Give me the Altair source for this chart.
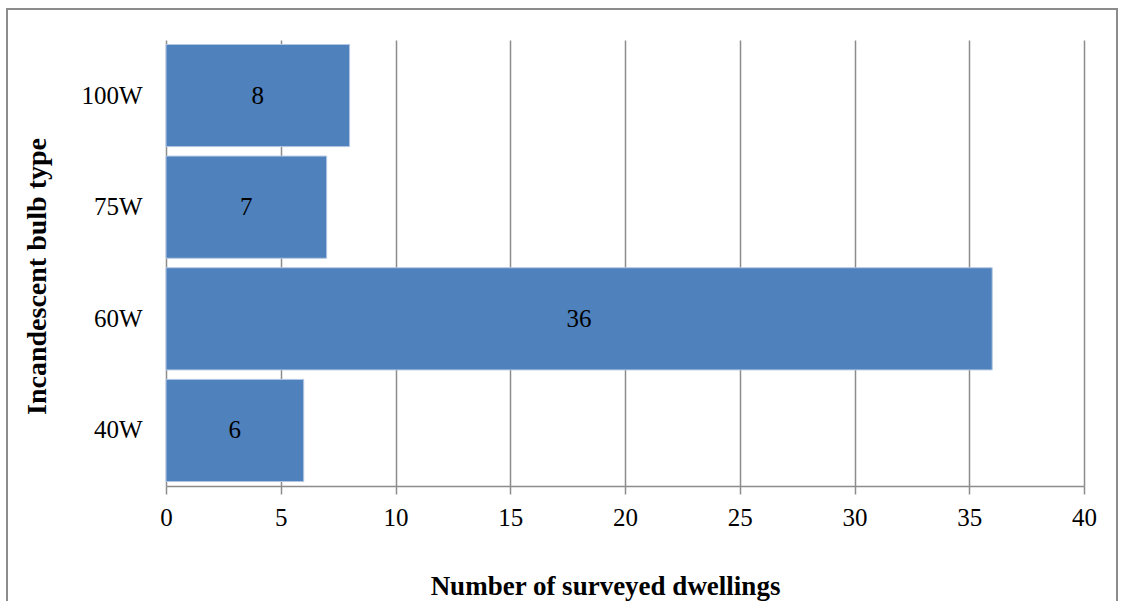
import altair as alt
import pandas as pd

# Bulb types and how many surveyed dwellings use each
bulb_types = ["100W", "75W", "60W", "40W"]
dwellings = [8, 7, 36, 6]
x_ticks = [0, 5, 10, 15, 20, 25, 30, 35, 40]

df = pd.DataFrame({"bulb": bulb_types, "count": dwellings})

FONT = "Liberation Serif"
GRID = "#8c8c8c"

y_enc = alt.Y(
    "bulb:N",
    sort=bulb_types,
    scale=alt.Scale(paddingInner=0.085, paddingOuter=0.04),
    axis=alt.Axis(
        title="Incandescent bulb type",
        ticks=False,
        domain=False,
        labelPadding=24,
        titlePadding=29,
        titleFontSize=28,
        titleY=236,
    ),
)

x_enc = alt.X(
    "count:Q",
    scale=alt.Scale(domain=[0, 40], nice=False),
    axis=alt.Axis(
        title="Number of surveyed dwellings",
        values=x_ticks,
        labelFlush=False,
        tickSize=8,
        tickColor=GRID,
        tickWidth=1.5,
        domainColor=GRID,
        domainWidth=1.5,
        gridColor=GRID,
        gridWidth=1.5,
        labelPadding=11,
        titlePadding=43,
        titleX=439,
    ),
)

bars = alt.Chart(df).mark_bar(
    color="#4f81bd", stroke="#b3c7e3", strokeWidth=1
).encode(x=x_enc, y=y_enc)

labels = alt.Chart(df).mark_text(
    font=FONT, fontSize=25, color="black", baseline="middle", align="center"
).encode(
    x=alt.X("mid:Q"),
    y=alt.Y("bulb:N", sort=bulb_types),
    text="count:Q",
).transform_calculate(mid="datum.count / 2")

# Outer frame around the whole figure
frame = alt.Chart(pd.DataFrame({"k": [0]})).mark_rect(
    fill=None, stroke="#8c8c8c", strokeWidth=2, clip=False
).encode(
    x=alt.value(-159), x2=alt.value(951), y=alt.value(-31), y2=alt.value(600)
)

chart = alt.layer(bars, labels, frame).properties(
    width=918,
    height=446,
    autosize=alt.AutoSizeParams(type="none"),
    padding={"left": 166, "top": 40, "right": 41, "bottom": 115},
    background="white",
).configure_view(stroke=None).configure_axis(
    labelFont=FONT,
    labelFontSize=25,
    labelColor="black",
    titleFont=FONT,
    titleFontSize=27,
    titleFontWeight="bold",
    titleColor="black",
)

chart.save("out.html", embed_options={"renderer": "svg", "actions": False})
